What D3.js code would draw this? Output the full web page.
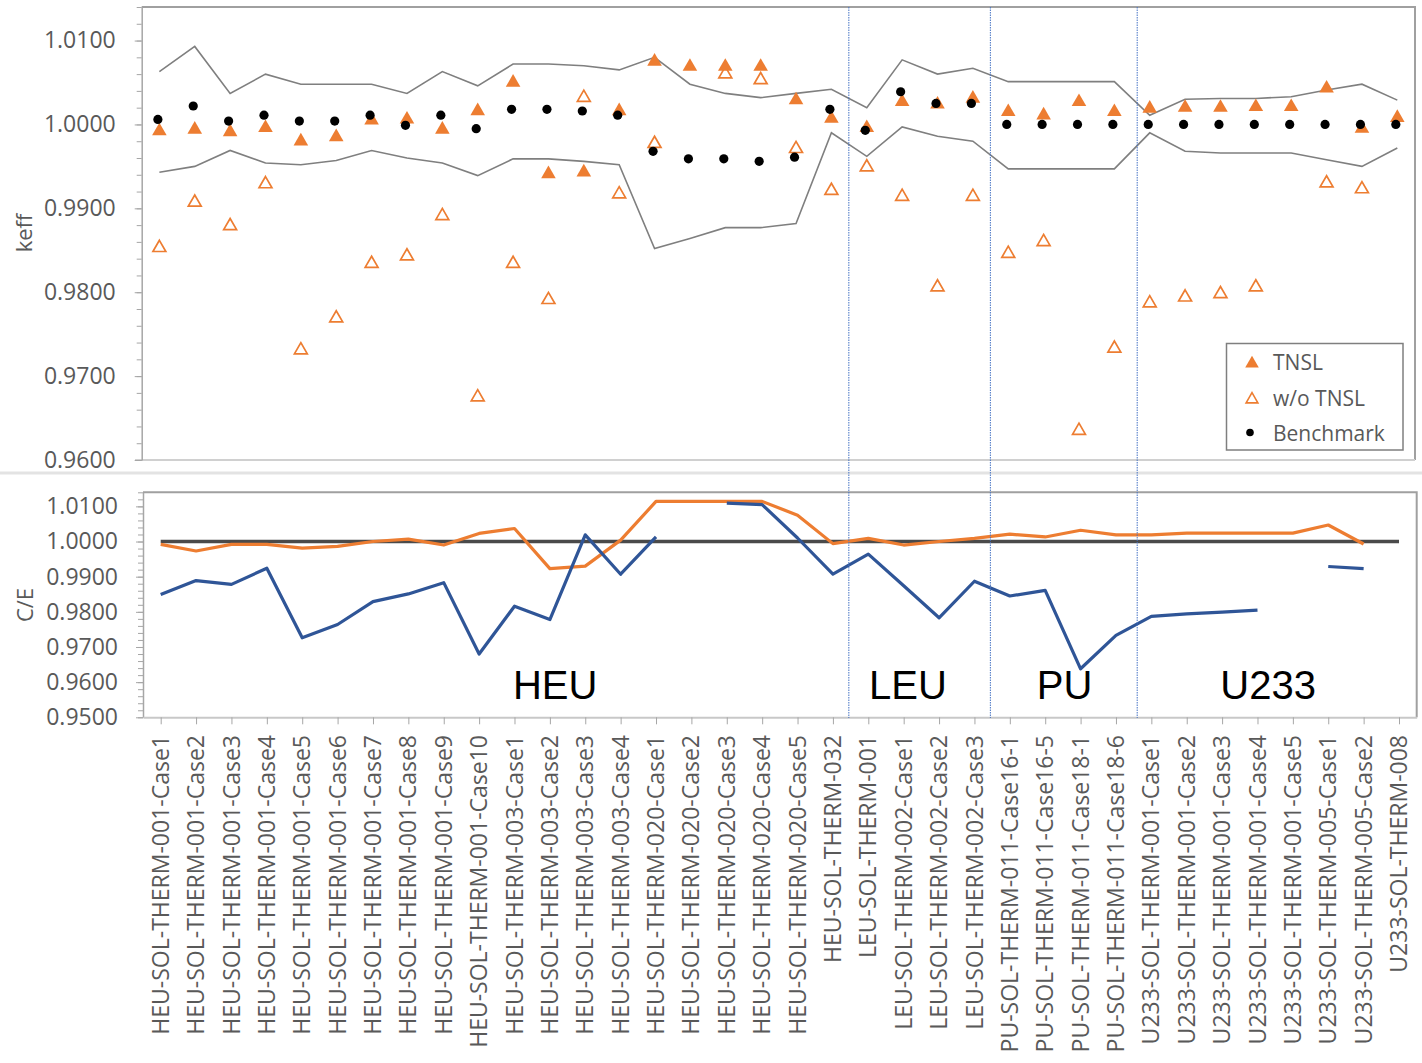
<!DOCTYPE html>
<html>
<head>
<meta charset="utf-8">
<script src="https://cdn.jsdelivr.net/npm/d3@7"></script>
<style>
  body { margin: 0; background: #fff; }
  svg { display: block; font-family: "Open Sans", sans-serif; }
</style>
</head>
<body>
<div class="chart"></div>
<script>
// benchmark cases, in plotting order
const cases = [
  "HEU-SOL-THERM-001-Case1", "HEU-SOL-THERM-001-Case2", "HEU-SOL-THERM-001-Case3",
  "HEU-SOL-THERM-001-Case4", "HEU-SOL-THERM-001-Case5", "HEU-SOL-THERM-001-Case6",
  "HEU-SOL-THERM-001-Case7", "HEU-SOL-THERM-001-Case8", "HEU-SOL-THERM-001-Case9",
  "HEU-SOL-THERM-001-Case10", "HEU-SOL-THERM-003-Case1", "HEU-SOL-THERM-003-Case2",
  "HEU-SOL-THERM-003-Case3", "HEU-SOL-THERM-003-Case4", "HEU-SOL-THERM-020-Case1",
  "HEU-SOL-THERM-020-Case2", "HEU-SOL-THERM-020-Case3", "HEU-SOL-THERM-020-Case4",
  "HEU-SOL-THERM-020-Case5", "HEU-SOL-THERM-032", "LEU-SOL-THERM-001",
  "LEU-SOL-THERM-002-Case1", "LEU-SOL-THERM-002-Case2", "LEU-SOL-THERM-002-Case3",
  "PU-SOL-THERM-011-Case16-1", "PU-SOL-THERM-011-Case16-5", "PU-SOL-THERM-011-Case18-1",
  "PU-SOL-THERM-011-Case18-6", "U233-SOL-THERM-001-Case1", "U233-SOL-THERM-001-Case2",
  "U233-SOL-THERM-001-Case3", "U233-SOL-THERM-001-Case4", "U233-SOL-THERM-001-Case5",
  "U233-SOL-THERM-005-Case1", "U233-SOL-THERM-005-Case2", "U233-SOL-THERM-008"
];

// keff (top panel)
const benchmark = [1.0006, 1.0022, 1.0004, 1.0011, 1.0004, 1.0004, 1.0011, 0.9999, 1.0011, 0.9995,
  1.0018, 1.0018, 1.0016, 1.0011, 0.9968, 0.9959, 0.9959, 0.9956, 0.9961, 1.0018,
  0.9993, 1.0039, 1.0025, 1.0025, 1.0000, 1.0000, 1.0000, 1.0000, 1.0000, 1.0000,
  1.0000, 1.0000, 1.0000, 1.0000, 1.0000, 1.0000];
const tnsl = [0.9992, 0.9994, 0.9991, 0.9996, 0.9980, 0.9985, 1.0005, 1.0006, 0.9994, 1.0016,
  1.0050, 0.9941, 0.9943, 1.0016, 1.0075, 1.0069, 1.0069, 1.0069, 1.0029, 1.0007,
  0.9996, 1.0027, 1.0024, 1.0031, 1.0015, 1.0011, 1.0027, 1.0015, 1.0019, 1.0020,
  1.0020, 1.0021, 1.0021, 1.0043, 0.9995, 1.0008];
const woTnsl = [0.9853, 0.9907, 0.9879, 0.9929, 0.9731, 0.9769, 0.9834, 0.9843, 0.9891, 0.9675,
  0.9834, 0.9791, 1.0032, 0.9917, 0.9977, null, 1.0060, 1.0053, 0.9971, 0.9921,
  0.9949, 0.9914, 0.9806, 0.9914, 0.9846, 0.9860, 0.9635, 0.9733, 0.9787, 0.9794,
  0.9798, 0.9806, null, 0.9930, 0.9923, null];
const upperBound = [1.0063, 1.0093, 1.0037, 1.0060, 1.0048, 1.0048, 1.0048, 1.0037, 1.0063, 1.0046,
  1.0072, 1.0072, 1.0070, 1.0065, 1.0080, 1.0048, 1.0037, 1.0032, 1.0037, 1.0042,
  1.0020, 1.0077, 1.0060, 1.0067, 1.0051, 1.0051, 1.0051, 1.0051, 1.0011, 1.0030,
  1.0031, 1.0031, 1.0033, 1.0041, 1.0048, 1.0029];
const lowerBound = [0.9943, 0.9950, 0.9969, 0.9954, 0.9952, 0.9957, 0.9969, 0.9960, 0.9954, 0.9939,
  0.9959, 0.9959, 0.9956, 0.9952, 0.9852, 0.9864, 0.9877, 0.9877, 0.9882, 0.9990,
  0.9962, 0.9997, 0.9986, 0.9980, 0.9947, 0.9947, 0.9947, 0.9947, 0.9990, 0.9968,
  0.9966, 0.9966, 0.9966, 0.9958, 0.9950, 0.9972];

// C/E (bottom panel)
const ceTnsl = [0.9992, 0.9973, 0.9992, 0.9992, 0.9981, 0.9986, 1.0000, 1.0007, 0.9990, 1.0023,
  1.0037, 0.9923, 0.9930, 1.0004, 1.0114, 1.0114, 1.0114, 1.0114, 1.0075, 0.9994,
  1.0009, 0.9990, 1.0000, 1.0009, 1.0021, 1.0013, 1.0032, 1.0019, 1.0019, 1.0024,
  1.0024, 1.0024, 1.0024, 1.0047, 0.9993, null];
const ceWoTnsl = [0.9849, 0.9889, 0.9878, 0.9924, 0.9726, 0.9764, 0.9829, 0.9851, 0.9883, 0.9680,
  0.9816, 0.9778, 1.0019, 0.9907, 1.0013, null, 1.0109, 1.0105, 1.0010, 0.9907,
  0.9964, 0.9874, 0.9783, 0.9887, 0.9845, 0.9861, 0.9638, 0.9733, 0.9787, 0.9794,
  0.9799, 0.9805, null, 0.9929, 0.9923, null];
const ceReference = 1.0;

const keffTicks = [0.9600, 0.9700, 0.9800, 0.9900, 1.0000, 1.0100];
const ceTicks = [0.9500, 0.9600, 0.9700, 0.9800, 0.9900, 1.0000, 1.0100];

// group annotations, positions in category units
const groups = [
  {name: "HEU", at: 11.15}, {name: "LEU", at: 21.12},
  {name: "PU", at: 25.55}, {name: "U233", at: 31.3}
];
const groupBreaks = [19.45, 23.45, 27.6];

const orange = "#ED7D31", blue = "#2F5597", gray = "#595959";

const W = 1422, H = 1063;
const svg = d3.select(".chart").append("svg")
    .attr("width", W)
    .attr("height", H);

// ---------- scales ----------
const xTop = d3.scalePoint().domain(cases).range([141.7, 1415]).padding(0.5);
const yTop = d3.scaleLinear().domain([0.96, 1.014]).range([460, 7]);

const xBot = d3.scalePoint().domain(cases).range([143, 1416.7]).padding(0.5);
const yBot = d3.scaleLinear().domain([0.95, 1.014]).range([717.3, 492.3]);

const atIndex = k => xBot(cases[0]) + k * xBot.step();

// ---------- top panel frame ----------
svg.append("line")
    .attr("x1", 0).attr("x2", W).attr("y1", 473).attr("y2", 473)
    .attr("stroke", "#e3e3e3").attr("stroke-width", 3);

svg.append("path")
    .attr("d", `M141.7,7H1415V460`)
    .attr("fill", "none").attr("stroke", "#a0a0a0").attr("stroke-width", 2);
svg.append("line")
    .attr("x1", 135).attr("x2", 1415).attr("y1", 460).attr("y2", 460)
    .attr("stroke", "#d0d0d0").attr("stroke-width", 2);

const minorTop = d3.range(0, 28).map(i => 0.96 + i * 0.002);
svg.append("g")
    .attr("transform", "translate(141.7,0)")
    .call(d3.axisLeft(yTop).tickValues(minorTop).tickFormat("").tickSize(5).tickSizeOuter(0))
    .call(g => g.selectAll("line").attr("stroke", "#a6a6a6"))
    .call(g => g.select(".domain").attr("stroke", "#a6a6a6").attr("stroke-width", 1.5));

svg.append("g")
    .attr("transform", "translate(141.7,0)")
    .call(d3.axisLeft(yTop).tickValues(keffTicks).tickFormat(d3.format(".4f")).tickSize(7).tickPadding(19))
    .call(g => g.select(".domain").remove())
    .call(g => g.selectAll("line").attr("stroke", "#a6a6a6"))
    .call(g => g.selectAll("text").attr("fill", gray).attr("font-size", 23)
        .attr("font-family", "Open Sans"));

svg.append("text")
    .attr("transform", "translate(24,233) rotate(-90)")
    .attr("text-anchor", "middle")
    .attr("dy", "0.35em")
    .attr("fill", gray)
    .attr("font-size", 22)
    .text("keff");

// bounds
const boundLine = d3.line()
    .x((d, i) => xTop(cases[i]))
    .y(d => yTop(d));

[upperBound, lowerBound].forEach(arr => {
  svg.append("path")
      .datum(arr)
      .attr("fill", "none")
      .attr("stroke", "#7f7f7f")
      .attr("stroke-width", 1.6)
      .attr("d", boundLine);
});

// hollow triangles (w/o TNSL)
svg.append("g")
    .selectAll("path")
    .data(woTnsl.map((v, i) => ({c: cases[i], v})).filter(d => d.v != null))
    .join("path")
    .attr("transform", d => `translate(${xTop(d.c)},${yTop(d.v)})`)
    .attr("d", d3.symbol(d3.symbolTriangle, 72))
    .attr("fill", "#fff")
    .attr("stroke", orange)
    .attr("stroke-width", 1.7);

// filled triangles (TNSL)
svg.append("g")
    .selectAll("path")
    .data(tnsl.map((v, i) => ({c: cases[i], v})))
    .join("path")
    .attr("transform", d => `translate(${xTop(d.c)},${yTop(d.v)})`)
    .attr("d", d3.symbol(d3.symbolTriangle, 92))
    .attr("fill", orange);

// benchmark dots
svg.append("g")
    .selectAll("circle")
    .data(benchmark.map((v, i) => ({c: cases[i], v})))
    .join("circle")
    .attr("cx", d => xTop(d.c) - 1.5)
    .attr("cy", d => yTop(d.v))
    .attr("r", 4.6)
    .attr("fill", "#000");

// legend
const legend = svg.append("g");
legend.append("rect")
    .attr("x", 1226.5).attr("y", 343.5).attr("width", 176.5).attr("height", 106.5)
    .attr("fill", "#fff").attr("stroke", "#7f7f7f").attr("stroke-width", 1.5);
const legendItems = [
  {label: "TNSL", y: 362.5},
  {label: "w/o TNSL", y: 398.5},
  {label: "Benchmark", y: 433.5}
];
legend.append("path")
    .attr("transform", `translate(1252,${legendItems[0].y + 1})`)
    .attr("d", d3.symbol(d3.symbolTriangle, 80))
    .attr("fill", orange);
legend.append("path")
    .attr("transform", `translate(1252,${legendItems[1].y + 1})`)
    .attr("d", d3.symbol(d3.symbolTriangle, 60))
    .attr("fill", "#fff").attr("stroke", orange).attr("stroke-width", 1.6);
legend.append("circle")
    .attr("cx", 1250).attr("cy", legendItems[2].y - 1).attr("r", 3.8)
    .attr("fill", "#000");
legend.selectAll("text")
    .data(legendItems)
    .join("text")
    .attr("x", 1273)
    .attr("y", d => d.y)
    .attr("dy", "0.35em")
    .attr("fill", gray)
    .attr("font-size", 21)
    .text(d => d.label);

// ---------- bottom panel ----------
svg.append("path")
    .attr("d", `M143,492.3H1416.7V717.3`)
    .attr("fill", "none").attr("stroke", "#a0a0a0").attr("stroke-width", 2);

const minorBot = d3.range(0, 33).map(i => 0.95 + i * 0.002);
svg.append("g")
    .attr("transform", "translate(143,0)")
    .call(d3.axisLeft(yBot).tickValues(minorBot).tickFormat("").tickSize(5).tickSizeOuter(0))
    .call(g => g.selectAll("line").attr("stroke", "#a6a6a6"))
    .call(g => g.select(".domain").attr("stroke", "#a6a6a6").attr("stroke-width", 1.5));

svg.append("g")
    .attr("transform", "translate(143,0)")
    .call(d3.axisLeft(yBot).tickValues(ceTicks).tickFormat(d3.format(".4f")).tickSize(7).tickPadding(18))
    .call(g => g.select(".domain").remove())
    .call(g => g.selectAll("line").attr("stroke", "#a6a6a6"))
    .call(g => g.selectAll("text").attr("fill", gray).attr("font-size", 23)
        .attr("font-family", "Open Sans"));

svg.append("text")
    .attr("transform", "translate(25,605) rotate(-90)")
    .attr("text-anchor", "middle")
    .attr("dy", "0.35em")
    .attr("fill", gray)
    .attr("font-size", 22)
    .text("C/E");

// x axis with rotated case names
svg.append("g")
    .attr("transform", "translate(0,717.3)")
    .call(d3.axisBottom(xBot).tickSize(7).tickSizeOuter(0).tickFormat(""))
    .call(g => g.select(".domain").attr("stroke", "#c8c8c8").attr("stroke-width", 2))
    .call(g => g.selectAll(".tick line").attr("stroke", "#a6a6a6"));

svg.append("g")
    .selectAll("text")
    .data(cases)
    .join("text")
    .attr("transform", d => `translate(${xBot(d)},735) rotate(-90)`)
    .attr("text-anchor", "end")
    .attr("dy", "0.35em")
    .attr("fill", gray)
    .attr("font-size", 23)
    .text(d => d);

// reference line at C/E = 1
svg.append("line")
    .attr("x1", xBot(cases[0])).attr("x2", xBot(cases[cases.length - 1]))
    .attr("y1", yBot(ceReference)).attr("y2", yBot(ceReference))
    .attr("stroke", "#4a4a4a").attr("stroke-width", 3.5);

const ceLine = d3.line()
    .defined(d => d != null)
    .x((d, i) => xBot(cases[i]))
    .y(d => yBot(d));

svg.append("path")
    .datum(ceTnsl)
    .attr("fill", "none")
    .attr("stroke", orange)
    .attr("stroke-width", 3.2)
    .attr("stroke-linejoin", "round")
    .attr("d", ceLine);

svg.append("path")
    .datum(ceWoTnsl)
    .attr("fill", "none")
    .attr("stroke", blue)
    .attr("stroke-width", 3.2)
    .attr("stroke-linejoin", "round")
    .attr("d", ceLine);

// group separators spanning both panels
svg.append("g")
    .selectAll("line")
    .data(groupBreaks)
    .join("line")
    .attr("x1", d => atIndex(d)).attr("x2", d => atIndex(d))
    .attr("y1", 7).attr("y2", 718)
    .attr("stroke", "#4472C4")
    .attr("stroke-width", 1)
    .attr("stroke-dasharray", "1.5,1");

svg.append("g")
    .selectAll("text")
    .data(groups)
    .join("text")
    .attr("x", d => atIndex(d.at))
    .attr("y", 699)
    .attr("text-anchor", "middle")
    .attr("font-family", "Liberation Sans, Arial, sans-serif")
    .attr("font-size", 40)
    .attr("fill", "#000")
    .text(d => d.name);
</script>
</body>
</html>
